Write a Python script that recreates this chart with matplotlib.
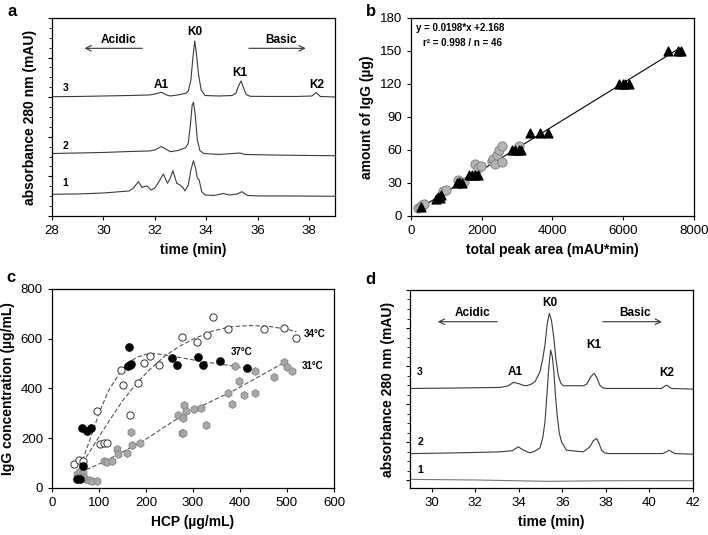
import numpy as np
import matplotlib
matplotlib.use("Agg")
import matplotlib.pyplot as plt
from matplotlib.ticker import MultipleLocator

plt.rcParams["font.family"] = ["Liberation Sans", "DejaVu Sans"]

# ---- panel a: chromatograms (time in min, absorbance in mAU) ----
a_t3 = [28.0, 29.0, 30.0, 31.0, 31.8, 32.0, 32.25, 32.45, 32.6, 32.9, 33.2, 33.3, 33.4, 33.47,
        33.55, 33.62, 33.7, 33.8, 33.95, 34.5, 35.0, 35.15, 35.25, 35.35, 35.45, 35.55, 35.7,
        36.5, 37.5, 38.1, 38.27, 38.43, 39.0]
a_y3 = [150.6, 150.9, 151.5, 152.1, 152.8, 154.0, 156.2, 152.8, 151.5, 152.8, 154.9, 157.8, 171.7, 197.0,
        221.0, 203.3, 178.0, 159.0, 152.1, 151.5, 152.1, 154.9, 164.0, 170.5, 161.6, 153.4, 151.1,
        150.9, 150.9, 151.5, 155.9, 150.9, 150.2]
a_t2 = [28.0, 29.0, 30.0, 31.0, 31.8, 32.0, 32.25, 32.45, 32.6, 32.9, 33.2, 33.3, 33.38, 33.45,
        33.5, 33.57, 33.65, 33.75, 33.9, 34.5, 35.3, 35.5, 36.5, 38.0, 39.0]
a_y2 = [78.9, 79.5, 80.2, 81.4, 82.1, 83.3, 87.7, 84.0, 81.2, 82.7, 86.2, 92.2, 114.9, 140.1,
        143.6, 127.5, 96.0, 82.7, 78.9, 77.7, 79.5, 77.7, 77.0, 76.4, 76.1]
a_t1 = [28.0, 29.0, 30.0, 30.5, 31.0, 31.15, 31.36, 31.5, 31.6, 31.7, 31.85, 32.0, 32.15, 32.33,
        32.49, 32.6, 32.7, 32.85, 32.98, 33.1, 33.17, 33.3, 33.4, 33.5, 33.58, 33.65, 33.72,
        33.82, 33.95, 34.3, 34.66, 34.9, 35.2, 35.38, 35.6, 36.0, 37.0, 39.0]
a_y1 = [27.4, 27.8, 29.0, 30.3, 31.6, 34.7, 43.3, 36.0, 37.2, 37.9, 32.8, 35.4, 42.9, 53.0,
        41.3, 48.0, 57.2, 41.3, 39.1, 35.4, 31.6, 39.1, 58.1, 69.8, 60.6, 48.0, 45.5,
        30.7, 26.5, 25.9, 28.4, 26.5, 27.8, 30.7, 25.9, 25.3, 25.3, 24.9]
a_peaks = ["A1", "K0", "K1", "K2"]
a_peak_t = [32.24, 33.55, 35.3, 38.3]
a_peak_y = [166, 232, 181, 166]

# ---- panel b: calibration ----
tri_x = [290, 700, 760, 820, 860, 1290, 1370, 1430, 1640, 1720, 1800, 1900, 2860, 2950, 3040, 3100,
         3370, 3640, 3880, 5880, 5980, 6060, 6160, 7270, 7560, 7620]
tri_y = [8, 15, 17, 16, 19, 30, 31, 30, 37.5, 37.5, 37.5, 37.5, 60, 60, 60, 60,
         75, 75, 75, 120, 120, 120, 120, 150, 150, 150]
circ_x = [200, 260, 320, 380, 900, 1000, 1340, 1420, 1500, 1820, 1900, 1980, 2280, 2320, 2380,
          2440, 2500, 2560, 2560, 3050]
circ_y = [7, 8, 10, 11, 23, 24, 33, 30, 31, 47, 44, 45, 50, 52, 47, 55, 60, 64, 49, 64]
fit_slope = 0.0198
fit_icpt = 2.168
fit_range = [250, 7600]

# ---- panel c: IgG vs HCP ----
c34_x = [47, 58, 66, 95, 103, 110, 117, 146, 152, 166, 184, 195, 209, 228, 276, 308, 329, 343, 375, 451, 494, 519]
c34_y = [95, 114, 108, 310, 175, 180, 180, 473, 414, 293, 421, 504, 532, 495, 605, 586, 616, 688, 640, 639, 643, 602]
c37_x = [53, 60, 66, 63, 74, 84, 163, 161, 165, 168, 255, 265, 311, 322, 357, 414]
c37_y = [35, 38, 87, 243, 231, 243, 565, 491, 495, 497, 522, 495, 528, 495, 512, 481]
c31_x = [53, 60, 67, 70, 78, 86, 95, 65, 110, 117, 127, 138, 141, 159, 168, 170, 187, 269, 276, 279,
         279, 281, 286, 303, 318, 328, 375, 383, 389, 397, 409, 432, 433, 472, 494, 500, 510]
c31_y = [56, 67, 60, 35, 33, 30, 30, 45, 109, 105, 109, 155, 138, 141, 226, 172, 179, 293, 219, 219,
         280, 333, 310, 316, 323, 253, 383, 336, 491, 428, 374, 472, 383, 448, 508, 488, 471]
fit34_x = [65, 90, 120, 150, 180, 210, 240, 270, 300, 340, 380, 420, 460, 500, 520]
fit34_y = [100, 175, 265, 350, 420, 480, 530, 568, 598, 630, 648, 653, 650, 638, 628]
fit37_x = [60, 80, 100, 120, 140, 160, 180, 200, 220, 250, 300, 350, 415]
fit37_y = [85, 190, 300, 390, 450, 500, 525, 537, 540, 532, 515, 500, 482]
fit31_x = [60, 110, 195, 280, 385, 495]
fit31_y = [62, 105, 190, 295, 390, 505]

# ---- panel d: chromatograms ----
d_t3 = [29.0, 29.16, 31.0, 33.13, 33.5, 33.75, 34.0, 34.2, 34.36, 34.55, 34.74, 34.97, 35.1, 35.2,
        35.3, 35.4, 35.5, 35.61, 35.7, 35.81, 35.92, 36.04, 36.96, 37.1, 37.18, 37.3, 37.46, 37.58,
        37.72, 37.85, 38.02, 40.55, 40.67, 40.78, 40.9, 41.0, 42.0]
d_y3 = [120.7, 120.7, 121.2, 122.0, 124.0, 128.6, 127.0, 124.8, 124.2, 126.0, 129.4, 142.6, 160.0, 177.7,
        205.0, 219.3, 210.0, 186.4, 160.0, 138.2, 128.0, 124.2, 124.2, 126.0, 129.4, 136.0, 140.4, 135.0,
        125.0, 121.5, 120.7, 120.7, 123.0, 125.0, 123.0, 120.7, 119.8]
d_t2 = [29.0, 29.16, 31.0, 33.13, 33.7, 33.97, 34.2, 34.5, 34.75, 34.97, 35.1, 35.2, 35.3, 35.38,
        35.46, 35.54, 35.61, 35.68, 35.76, 35.86, 35.96, 36.19, 36.96, 37.26, 37.42, 37.57, 37.68,
        37.8, 37.95, 38.1, 40.62, 40.78, 40.9, 41.05, 41.16, 42.0]
d_y2 = [35.2, 35.2, 36.0, 37.4, 39.0, 44.0, 40.0, 36.1, 38.5, 42.7, 56.0, 76.8, 116.3, 150.0,
        171.1, 162.0, 142.6, 112.0, 85.6, 62.0, 50.5, 39.6, 37.4, 44.0, 52.0, 55.0, 49.0,
        39.6, 36.0, 35.2, 35.2, 37.5, 39.6, 37.0, 35.2, 34.3]
d_t1 = [29.0, 32.0, 35.4, 38.0, 42.0]
d_y1 = [1.3, 0.5, -1.3, -0.5, -0.4]
d_peaks = ["A1", "K0", "K1", "K2"]
d_peak_t = [33.82, 35.4, 37.46, 40.78]
d_peak_y = [142.6, 233.3, 177.7, 140.4]

fig = plt.figure(figsize=(7.08, 5.35), dpi=100)
ax_a = fig.add_axes([0.0734, 0.5963, 0.3997, 0.3701])
ax_b = fig.add_axes([0.5805, 0.5963, 0.3997, 0.3701])
ax_c = fig.add_axes([0.0734, 0.0879, 0.3983, 0.3720])
ax_d = fig.add_axes([0.5791, 0.0879, 0.3997, 0.3701])

for ax in (ax_a, ax_b, ax_c, ax_d):
    ax.tick_params(direction="out", labelsize=9.5, length=3, width=0.8)
    for s in ax.spines.values():
        s.set_linewidth(0.9)

lab = dict(fontsize=10, fontweight="bold")
trace = dict(color="#3a3a3a", lw=0.8)

# panel a
ax_a.plot(a_t3, a_y3, **trace)
ax_a.plot(a_t2, a_y2, **trace)
ax_a.plot(a_t1, a_y1, **trace)
ax_a.set_xlim(28, 39)
ax_a.set_ylim(0, 250)
ax_a.yaxis.set_major_locator(MultipleLocator(50))
ax_a.yaxis.set_minor_locator(MultipleLocator(12.5))
ax_a.tick_params(axis="y", which="minor", length=2, direction="out")
ax_a.set_yticklabels([])
for name, t, y in zip(a_peaks, a_peak_t, a_peak_y):
    ax_a.text(t, y, name, ha="center", va="center", fontsize=8.5, fontweight="bold")
for num, y in zip(["3", "2", "1"], [161, 88.8, 41.3]):
    ax_a.text(28.53, y, num, ha="center", va="center", fontsize=7.5, fontweight="bold")
ax_a.text(30.58, 222, "Acidic", ha="center", va="center", fontsize=8.5, fontweight="bold")
ax_a.text(36.9, 222, "Basic", ha="center", va="center", fontsize=8.5, fontweight="bold")
ax_a.annotate("", xy=(29.16, 211.7), xytext=(31.62, 211.7),
              arrowprops=dict(arrowstyle="->", lw=0.8, color="#333333"))
ax_a.annotate("", xy=(37.97, 211.7), xytext=(35.55, 211.7),
              arrowprops=dict(arrowstyle="->", lw=0.8, color="#333333"))
ax_a.set_xlabel("time (min)", **lab)
ax_a.set_ylabel("absorbance 280 nm (mAU)", **lab)

# panel b
ax_b.plot(fit_range, [fit_slope * x + fit_icpt for x in fit_range], color="black", lw=0.8, zorder=1)
ax_b.scatter(circ_x, circ_y, s=44, marker="o", facecolor="#b4b4b4", edgecolor="#7a7a7a", lw=0.6, zorder=2)
ax_b.scatter(tri_x, tri_y, s=40, marker="^", facecolor="black", edgecolor="black", zorder=3)
ax_b.set_xlim(0, 8000)
ax_b.set_ylim(0, 180)
ax_b.set_xticks([0, 2000, 4000, 6000, 8000])
ax_b.set_yticks([0, 30, 60, 90, 120, 150, 180])
ax_b.text(150, 170.5, "y = 0.0198*x +2.168", fontsize=7, fontweight="bold", va="center")
ax_b.text(330, 157, "r² = 0.998 / n = 46", fontsize=7, fontweight="bold", va="center")
ax_b.set_xlabel("total peak area (mAU*min)", **lab)
ax_b.set_ylabel("amount of IgG (µg)", **lab)

# panel c
dash = dict(color="#555555", lw=0.8, ls=(0, (4, 2)), zorder=1)
ax_c.plot(fit34_x, fit34_y, **dash)
ax_c.plot(fit37_x, fit37_y, **dash)
ax_c.plot(fit31_x, fit31_y, **dash)
ax_c.scatter(c31_x, c31_y, s=32, marker="h", facecolor="#a8a8a8", edgecolor="#808080", lw=0.6, zorder=2)
ax_c.scatter(c34_x, c34_y, s=27, marker="o", facecolor="white", edgecolor="#333333", lw=0.7, zorder=3)
ax_c.scatter(c37_x, c37_y, s=27, marker="o", facecolor="black", edgecolor="black", zorder=4)
ax_c.text(558, 618, "34°C", fontsize=7, fontweight="bold", va="center", ha="center")
ax_c.text(403, 546, "37°C", fontsize=7, fontweight="bold", va="center", ha="center")
ax_c.text(555, 491, "31°C", fontsize=7, fontweight="bold", va="center", ha="center")
ax_c.set_xlim(0, 600)
ax_c.set_ylim(0, 800)
ax_c.set_xticks(range(0, 601, 100))
ax_c.set_yticks(range(0, 801, 200))
ax_c.set_xlabel("HCP (µg/mL)", **lab)
ax_c.set_ylabel("IgG concentration (µg/mL)", **lab)

# panel d
ax_d.plot(d_t3, d_y3, **trace)
ax_d.plot(d_t2, d_y2, **trace)
ax_d.plot(d_t1, d_y1, color="#777777", lw=0.8)
ax_d.set_xlim(29, 42)
ax_d.set_ylim(-10, 250)
ax_d.set_xticks(range(30, 43, 2))
ax_d.yaxis.set_major_locator(MultipleLocator(50))
ax_d.yaxis.set_minor_locator(MultipleLocator(12.5))
ax_d.tick_params(axis="y", which="minor", length=2, direction="out")
ax_d.set_yticklabels([])
for name, t, y in zip(d_peaks, d_peak_t, d_peak_y):
    ax_d.text(t, y, name, ha="center", va="center", fontsize=8.5, fontweight="bold")
for num, y in zip(["3", "2", "1"], [141.7, 50.5, 13.2]):
    ax_d.text(29.46, y, num, ha="center", va="center", fontsize=7.5, fontweight="bold")
ax_d.text(31.86, 219.3, "Acidic", ha="center", va="center", fontsize=8.5, fontweight="bold")
ax_d.text(39.35, 219.3, "Basic", ha="center", va="center", fontsize=8.5, fontweight="bold")
ax_d.annotate("", xy=(30.15, 208.3), xytext=(33.13, 208.3),
              arrowprops=dict(arrowstyle="->", lw=0.8, color="#333333"))
ax_d.annotate("", xy=(40.7, 208.3), xytext=(37.72, 208.3),
              arrowprops=dict(arrowstyle="->", lw=0.8, color="#333333"))
ax_d.set_xlabel("time (min)", **lab)
ax_d.set_ylabel("absorbance 280 nm (mAU)", **lab)

for letter, x, y in [("a", 8, 4), ("b", 366, 4), ("c", 6, 270), ("d", 365, 272)]:
    fig.text(x / 708, 1 - y / 535, letter, fontsize=12, fontweight="bold", va="top", ha="left")

fig.savefig("out.png", dpi=100)
